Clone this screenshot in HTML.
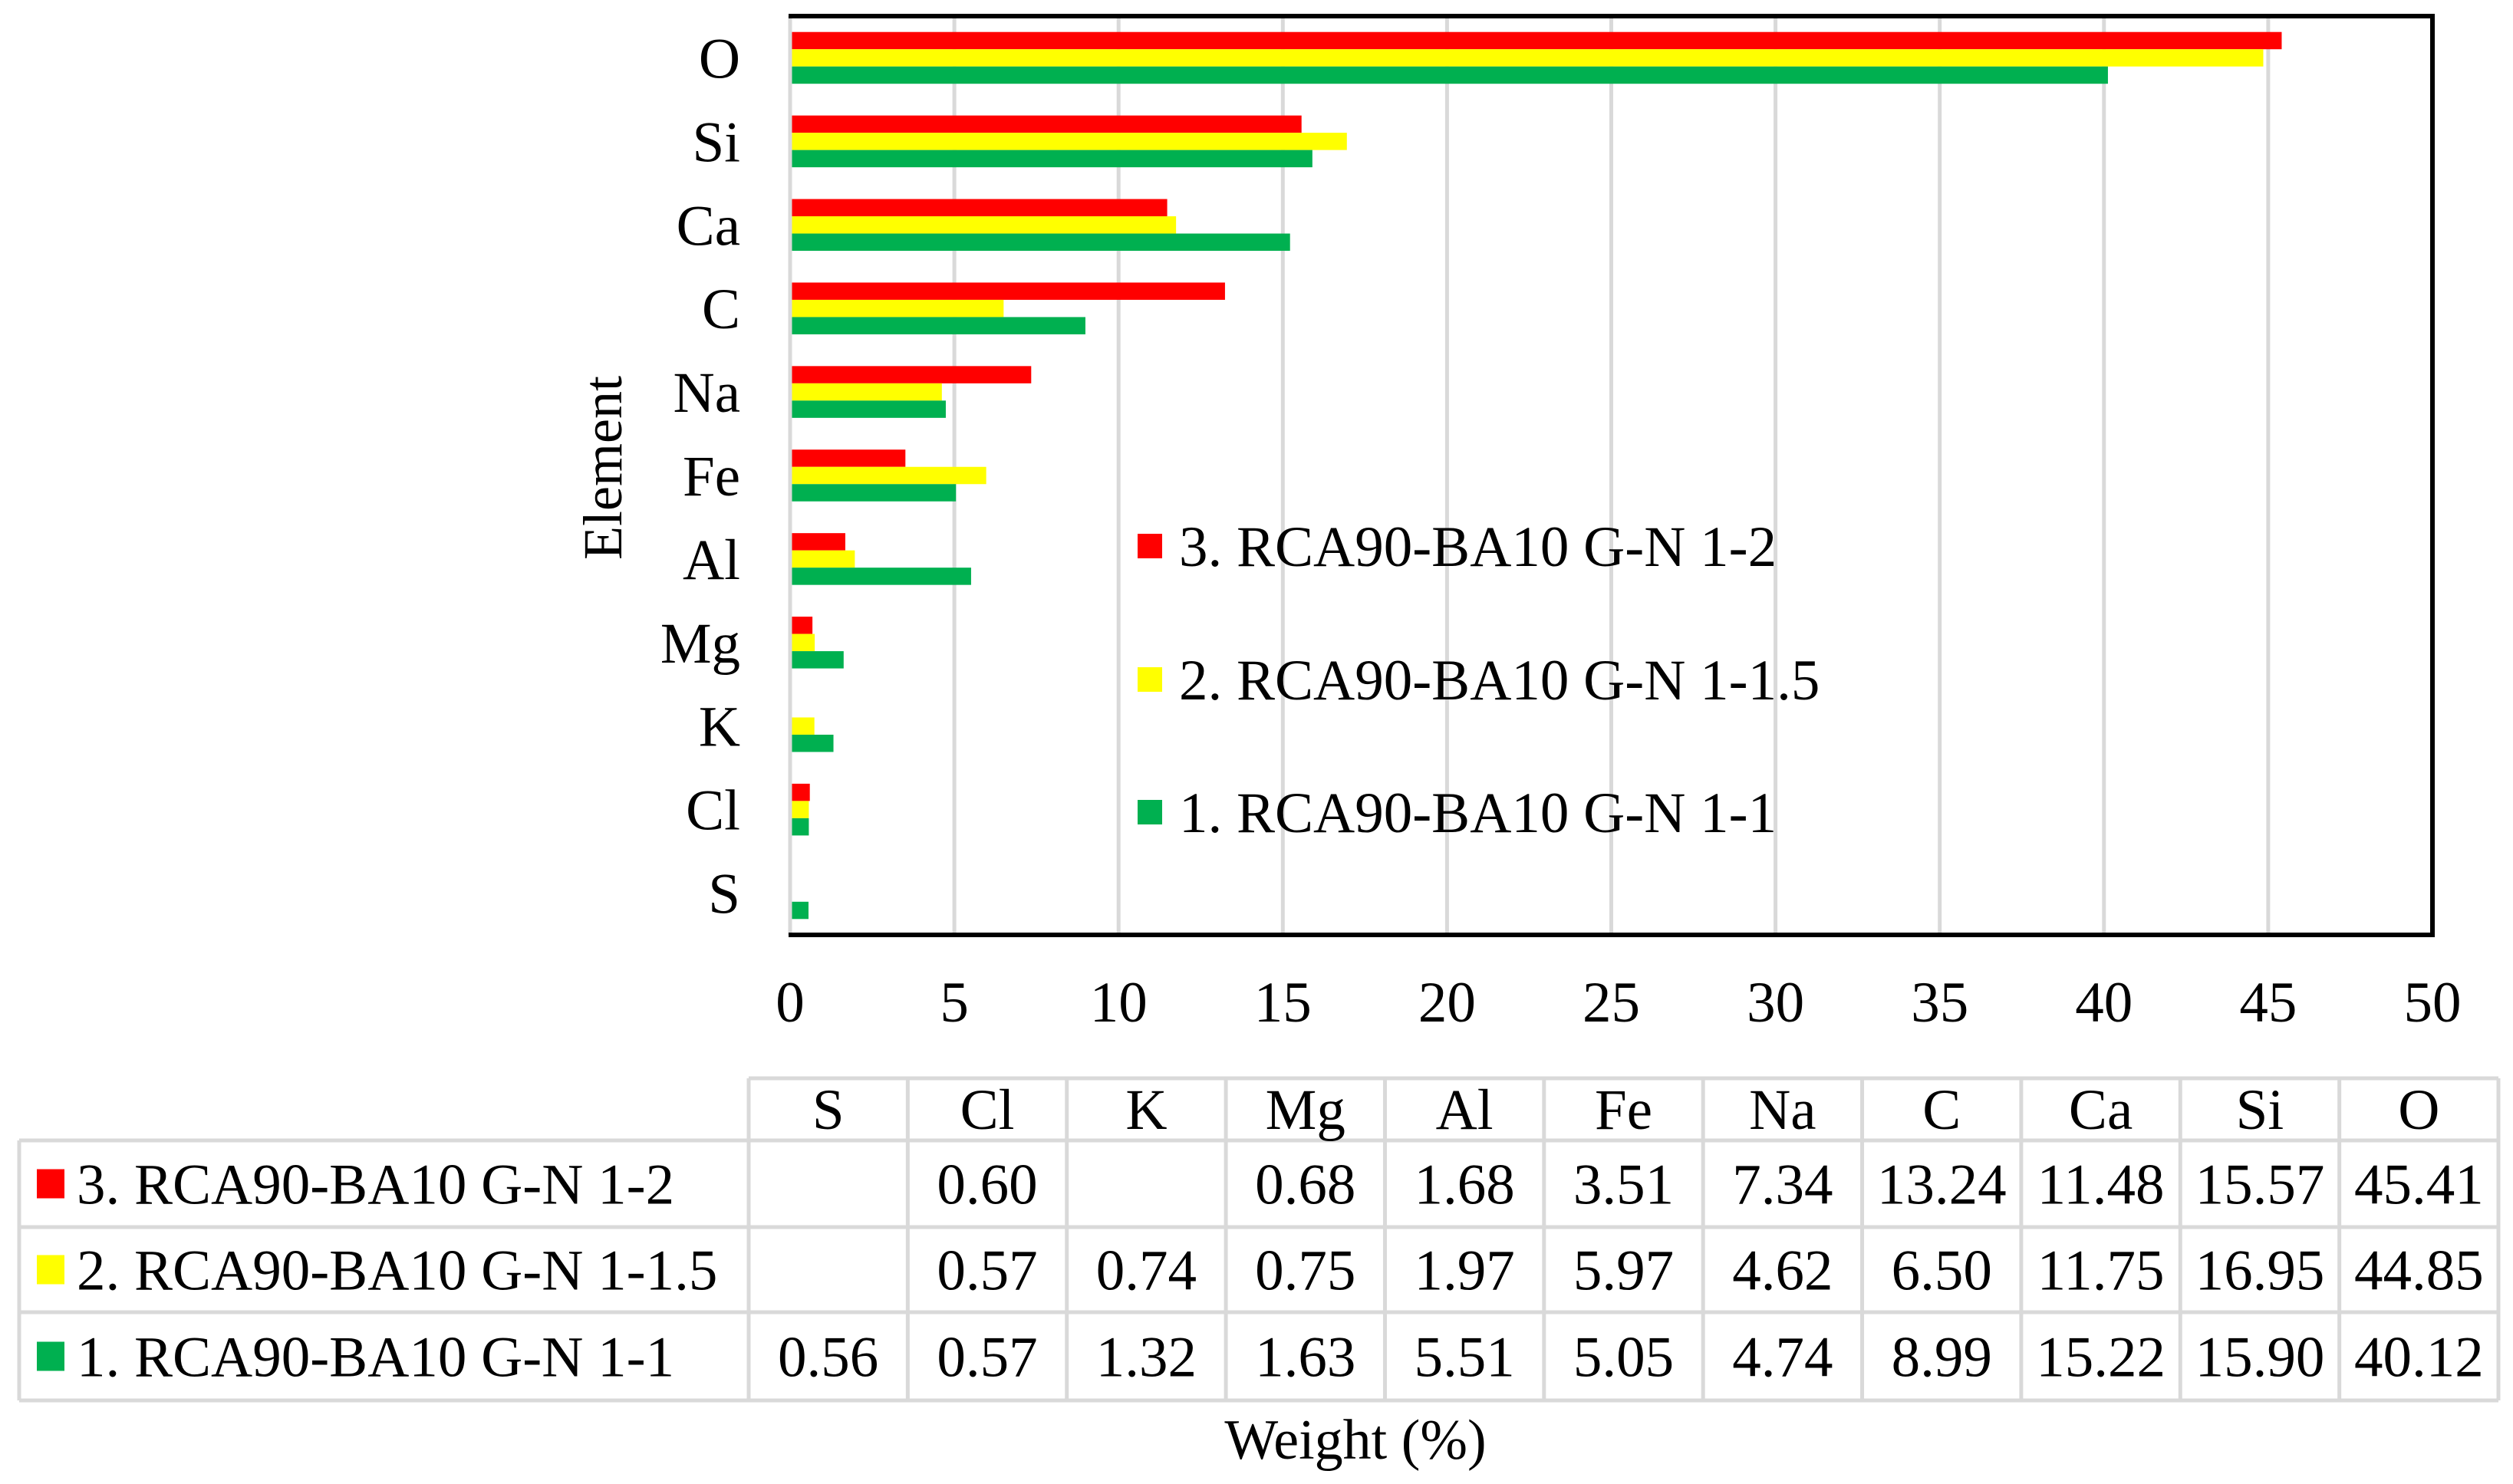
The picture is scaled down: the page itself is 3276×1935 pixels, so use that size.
<!DOCTYPE html>
<html><head><meta charset="utf-8"><style>
html,body{margin:0;padding:0;background:#fff}
svg{display:block}
text{font-family:"Liberation Serif",serif;fill:#000}
</style></head><body>
<svg id="chart" width="3276" height="1935" viewBox="0 0 3276 1935" xmlns="http://www.w3.org/2000/svg">
<g id="grid"></g>
<g id="bars"></g>
<g id="frame"></g>
<g id="ylabels"></g>
<g id="xlabels"></g>
<text x="0" y="0" font-size="72" text-anchor="middle" transform="translate(810,610) rotate(-90)">Element</text>
<g id="legend"></g>
<g id="table"></g>
<text x="1767" y="1902" font-size="74" text-anchor="middle">Weight (%)</text>
</svg>
<script>
const categories = ["O","Si","Ca","C","Na","Fe","Al","Mg","K","Cl","S"];
const seriesNames = ["3. RCA90-BA10 G-N 1-2","2. RCA90-BA10 G-N 1-1.5","1. RCA90-BA10 G-N 1-1"];
const seriesColors = ["#ff0000","#ffff00","#00b050"];
const s3 = [45.41,15.57,11.48,13.24,7.34,3.51,1.68,0.68,null,0.60,null];
const s2 = [44.85,16.95,11.75,6.50,4.62,5.97,1.97,0.75,0.74,0.57,null];
const s1 = [40.12,15.90,15.22,8.99,4.74,5.05,5.51,1.63,1.32,0.57,0.56];
const xTicks = [0,5,10,15,20,25,30,35,40,45,50];
const tableCols = ["S","Cl","K","Mg","Al","Fe","Na","C","Ca","Si","O"];

const NS="http://www.w3.org/2000/svg";
const L=1030,R=3171,T=21,B=1219;
const FS=75;
const xs=v=>L+(v-0)/(50-0)*(R-L);
const band=(B-T)/categories.length;
const ys=i=>T+i*band;
function mk(tag,attrs,parent,txt){const e=document.createElementNS(NS,tag);for(const k in attrs)e.setAttribute(k,attrs[k]);if(txt!=null)e.textContent=txt;parent.appendChild(e);return e;}
const g=id=>document.getElementById(id);

xTicks.forEach(t=>{
  if(t>0&&t<50){const l=mk('line',{x1:xs(t),x2:xs(t),y1:T,y2:B,stroke:'#d9d9d9','stroke-width':5},g('grid'));
  
  }
  const tx=mk('text',{x:xs(t),y:1332,'font-size':FS,'text-anchor':'middle'},g('xlabels'),String(t));
  
  
});

const series=[s3,s2,s1];
const bh=22.5, groupOff=(band-3*bh)/2;
categories.forEach((c,i)=>{
  series.forEach((s,k)=>{
    const v=s[i]; if(v==null) return;
    const r=mk('rect',{x:xs(0)+2,y:ys(i)+groupOff+k*bh,width:xs(v)-xs(0)-2,height:bh,fill:seriesColors[k]},g('bars'));
    
    
  });
  const t=mk('text',{x:965,y:ys(i)+band/2+26,'font-size':FS,'text-anchor':'end'},g('ylabels'),c);
  
  
});

mk('line',{x1:L,x2:L,y1:T,y2:B,stroke:'#d9d9d9','stroke-width':5},g('frame'));
mk('path',{d:`M${L-2} ${T}H${R}V${B}H${L-2}`,fill:'none',stroke:'#000','stroke-width':6},g('frame'));

const legY=[712,886,1059];
seriesNames.forEach((n,k)=>{
  const r=mk('rect',{x:1483,y:legY[k]-16,width:32,height:32,fill:seriesColors[k]},g('legend'));
  
  
  const t=mk('text',{x:1537,y:legY[k]+26,'font-size':FS},g('legend'),n);
  
  
});

// table
const tg=g('table');
const cx0=976,cw=(3257-976)/11,rowY=[1406,1487,1600,1711,1826],lx=25;
const gs={stroke:'#d9d9d9','stroke-width':5};
mk('line',Object.assign({x1:cx0,x2:3257,y1:rowY[0],y2:rowY[0]},gs),tg);
for(let r=1;r<rowY.length;r++) mk('line',Object.assign({x1:lx,x2:3257,y1:rowY[r],y2:rowY[r]},gs),tg);
for(let c=0;c<=11;c++) mk('line',Object.assign({x1:cx0+c*cw,x2:cx0+c*cw,y1:rowY[0],y2:rowY[4]},gs),tg);
mk('line',Object.assign({x1:lx,x2:lx,y1:rowY[1],y2:rowY[4]},gs),tg);
tableCols.forEach((c,j)=>{
  const t=mk('text',{x:cx0+(j+0.5)*cw,y:rowY[0]+66,'font-size':FS,'text-anchor':'middle'},tg,c);
  
  
});
series.forEach((s,k)=>{
  const y0=rowY[k+1],h=rowY[k+2]-y0;
  const sw=mk('rect',{x:48,y:y0+h/2-19,width:36,height:38,fill:seriesColors[k]},tg);
  
  
  const lt=mk('text',{x:100,y:y0+h/2+26,'font-size':FS},tg,seriesNames[k]);
  
  
  tableCols.forEach((c,j)=>{
    const v=s[categories.indexOf(c)]; if(v==null) return;
    const t=mk('text',{x:cx0+(j+0.5)*cw,y:y0+h/2+26,'font-size':FS,'text-anchor':'middle'},tg,v.toFixed(2));
    
    
  });
});
</script>
</body></html>
